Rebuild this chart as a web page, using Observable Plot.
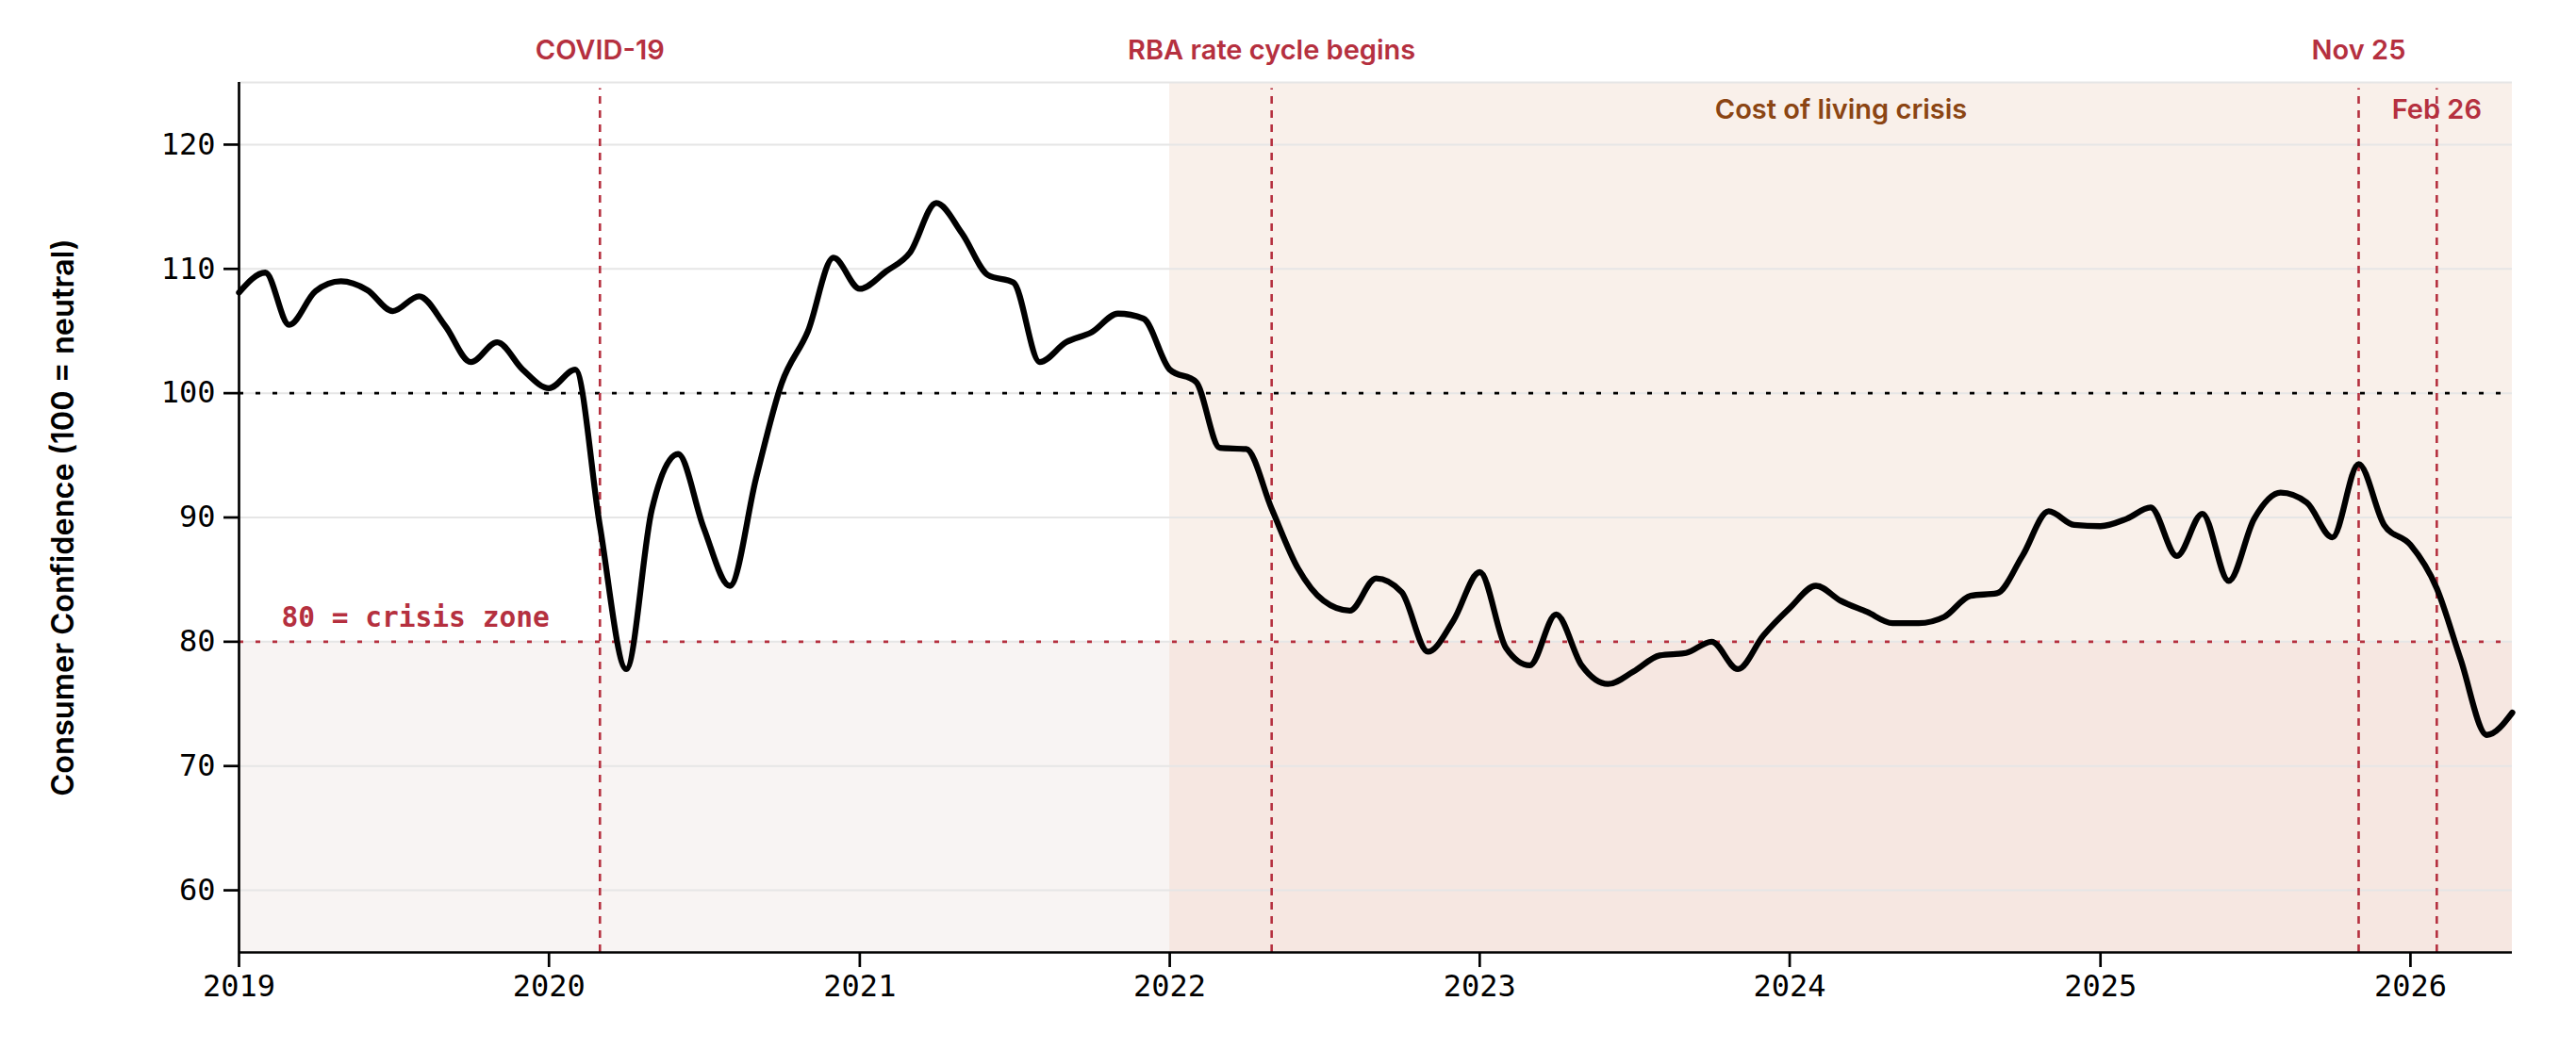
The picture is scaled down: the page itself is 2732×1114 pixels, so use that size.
<!DOCTYPE html>
<html>
<head>
<meta charset="utf-8">
<script src="https://cdn.jsdelivr.net/npm/d3@7"></script>
<script src="https://cdn.jsdelivr.net/npm/@observablehq/plot@0.6"></script>
<style>
  html, body { margin: 0; padding: 0; background: #ffffff; }
  #chart svg { display: block; }
</style>
</head>
<body>
<div id="chart"></div>
<script>
// Monthly consumer confidence index, one array per calendar year (Jan → Dec)
const conf2019 = [108.1, 109.7, 105.5, 108.2, 109.0, 108.3, 106.6, 107.8, 105.4, 102.5, 104.1, 101.9];
const conf2020 = [100.4, 101.9, 89.3, 77.8, 90.6, 95.1, 89.2, 84.5, 93.2, 100.8, 105.0, 110.9];
const conf2021 = [108.4, 109.8, 111.3, 115.3, 112.9, 109.5, 108.9, 102.5, 104.1, 104.9, 106.4, 106.0];
const conf2022 = [101.9, 100.9, 95.6, 95.5, 90.7, 85.9, 83.3, 82.5, 85.1, 84.0, 79.2, 81.7];
const conf2023 = [85.6, 79.5, 78.1, 82.2, 78.1, 76.6, 77.6, 78.9, 79.1, 80.0, 77.8, 80.5];
const conf2024 = [82.7, 84.5, 83.3, 82.4, 81.5, 81.5, 82.0, 83.7, 83.9, 86.9, 90.5, 89.4];
const conf2025 = [89.3, 89.9, 90.8, 86.9, 90.3, 84.9, 89.9, 92.0, 91.2, 88.4, 94.3, 89.4];
const conf2026 = [87.8, 84.3, 78.6, 72.5, 74.3];

const firstYear = 2019;
const seriesByYear = [conf2019, conf2020, conf2021, conf2022, conf2023, conf2024, conf2025, conf2026];

// Reference levels
const neutralLevel = 100;
const crisisLevel = 80;
const yDomain = [55, 125];
const yTicks = [60, 70, 80, 90, 100, 110, 120];
const gridLevels = [60, 70, 80, 90, 100, 110, 120, 125];
const xTickYears = [2019, 2020, 2021, 2022, 2023, 2024, 2025, 2026];

// Event markers
const eventLabels = ["COVID-19", "RBA rate cycle begins", "Nov 25", "Feb 26"];
const eventDates = ["2020-03-01", "2022-05-01", "2025-11-01", "2026-02-01"];
const eventRaised = [true, true, true, false];

// Shaded period
const periodLabel = "Cost of living crisis";
const periodStart = "2022-01-01";

const crisisLabel = "80 = crisis zone";
const yLabel = "Consumer Confidence (100 = neutral)";

// ---- build table ----
const data = [];
seriesByYear.forEach((vals, yi) => {
  vals.forEach((v, mi) => {
    data.push({date: new Date(Date.UTC(firstYear + yi, mi, 1)), value: v});
  });
});
const start = data[0].date;
const end = data[data.length - 1].date;
const pStart = new Date(periodStart + "T00:00:00Z");
const events = eventLabels.map((label, i) => ({
  label, date: new Date(eventDates[i] + "T00:00:00Z"), raised: eventRaised[i]
}));
const xTicks = xTickYears.map(y => new Date(Date.UTC(y, 0, 1)));

const red = "#b5303f";
const brown = "#8b4513";
const sans = "Inter";
const mono = "DejaVu Sans Mono";

const chart = Plot.plot({
  width: 2732,
  height: 1114,
  marginTop: 87,
  marginBottom: 104,
  marginLeft: 253,
  marginRight: 68,
  x: {type: "utc", domain: [start, end]},
  y: {domain: yDomain},
  style: {fontFamily: mono, fontSize: "32px", color: "black", background: "white"},
  marks: [
    // shaded cost-of-living period, full height
    Plot.rect([{x1: pStart, x2: end, y1: crisisLevel, y2: yDomain[1]}],
      {x1: "x1", x2: "x2", y1: "y1", y2: "y2", fill: "#f9f0ea"}),
    // crisis zone below 80, before and during the period
    Plot.rect([{x1: start, x2: pStart, y1: yDomain[0], y2: crisisLevel}],
      {x1: "x1", x2: "x2", y1: "y1", y2: "y2", fill: "#f8f4f3"}),
    Plot.rect([{x1: pStart, x2: end, y1: yDomain[0], y2: crisisLevel}],
      {x1: "x1", x2: "x2", y1: "y1", y2: "y2", fill: "#f6e7e1"}),
    // horizontal grid
    Plot.gridY(gridLevels, {stroke: "#e6e6e6", strokeOpacity: 1, strokeWidth: 2}),
    // threshold lines
    Plot.ruleY([crisisLevel], {stroke: red, strokeWidth: 2.8, strokeDasharray: "5,13"}),
    Plot.ruleY([neutralLevel], {stroke: "black", strokeWidth: 2.8, strokeDasharray: "5,13"}),
    // labels
    Plot.text([crisisLabel], {
      x: start, y: crisisLevel, text: d => d, dx: 45, dy: -25,
      textAnchor: "start", lineAnchor: "middle",
      fill: red, fontFamily: mono, fontWeight: "bold", fontSize: 29.5
    }),
    Plot.text([periodLabel], {
      x: new Date((+pStart + +end) / 2), y: yDomain[1], text: d => d, dy: 29,
      lineAnchor: "middle", fill: brown, fontFamily: sans, fontWeight: 600, fontSize: 29
    }),
    Plot.text(events, {
      x: "date", y: yDomain[1], text: "label",
      filter: d => d.raised, lineAnchor: "middle", dy: -34,
      fill: red, fontFamily: sans, fontWeight: 600, fontSize: 29
    }),
    Plot.text(events, {
      x: "date", y: yDomain[1], text: "label",
      filter: d => !d.raised, lineAnchor: "middle", dy: 29,
      fill: red, fontFamily: sans, fontWeight: 600, fontSize: 29
    }),
    // event markers
    Plot.ruleX(events, {x: "date", y1: yDomain[0], y2: 124.5, stroke: red, strokeWidth: 2.6, strokeDasharray: "8,7"}),
    // the series
    Plot.lineY(data, {x: "date", y: "value", curve: "monotone-x", stroke: "black", strokeWidth: 6.3}),
    // axes
    Plot.axisY(yTicks, {tickSize: 16, tickPadding: 9, strokeWidth: 2.7, label: null}),
    Plot.axisX(xTicks, {tickSize: 16, tickPadding: 8, strokeWidth: 2.7, tickFormat: d3.utcFormat("%Y"), label: null}),
    Plot.ruleX([start], {y1: yDomain[0], y2: yDomain[1], stroke: "black", strokeWidth: 2.7}),
    Plot.ruleY([yDomain[0]], {stroke: "black", strokeWidth: 2.7}),
    // y axis title
    Plot.text([yLabel], {
      frameAnchor: "left", text: d => d, rotate: -90, dx: -186,
      textAnchor: "middle", lineAnchor: "middle",
      fill: "black", fontFamily: sans, fontWeight: 600, fontSize: 32.5
    })
  ]
});

document.getElementById("chart").appendChild(chart);
</script>
</body>
</html>
